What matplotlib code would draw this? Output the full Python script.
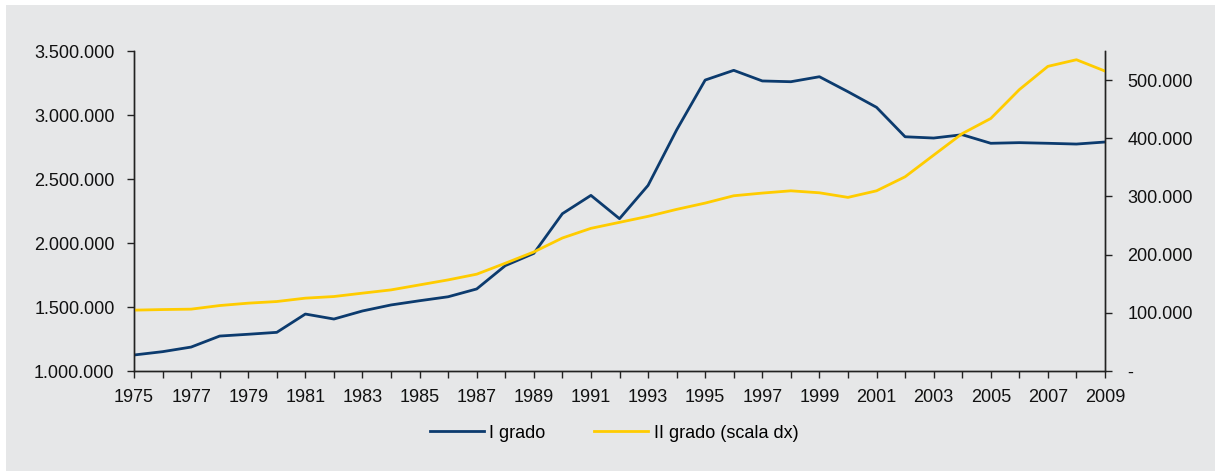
import matplotlib
matplotlib.use("Agg")
import matplotlib.pyplot as plt
from matplotlib.patches import Rectangle
from matplotlib.ticker import FuncFormatter, MultipleLocator

plt.rcParams['font.family'] = ['Liberation Sans', 'DejaVu Sans']

years = list(range(1975, 2010))

# I grado (scala sx)
primo_grado = [1125000, 1151000, 1187000, 1273000, 1287000, 1302000, 1445000, 1406000,
               1469000, 1516000, 1549000, 1580000, 1641000, 1823000, 1919000, 2229000,
               2372000, 2190000, 2450000, 2883000, 3273000, 3349000, 3266000, 3260000,
               3299000, 3182000, 3060000, 2830000, 2820000, 2846000, 2779000, 2784000,
               2779000, 2773000, 2789000]

# II grado (scala dx)
secondo_grado = [104600, 105600, 106300, 112500, 116600, 119400, 125200, 128000,
                 133800, 139400, 148000, 156600, 166400, 185200, 204600, 228600,
                 245200, 255500, 265800, 277800, 288600, 301200, 305800, 309700,
                 306300, 298400, 309700, 333800, 371000, 408000, 434000, 483600,
                 523600, 535000, 515500]

blu = '#0c3b6e'
giallo = '#ffcc00'
sfondo = '#e6e7e8'


def migliaia(v, pos):
    if v == 0:
        return '-'
    return f'{int(round(v)):,}'.replace(',', '.')


fig = plt.figure(figsize=(12.17, 4.73), dpi=100)
fig.patch.set_facecolor('white')
fig.patches.append(Rectangle((6 / 1217, 2 / 473), 1209 / 1217, 466 / 473,
                             transform=fig.transFigure, facecolor=sfondo,
                             edgecolor='none', zorder=-10))

ax = fig.add_axes([134 / 1217, 1 - 371 / 473, (1105 - 134) / 1217, 320 / 473])
ax.set_facecolor('none')
ax2 = ax.twinx()

l1, = ax.plot(years, primo_grado, color=blu, lw=2.0, label='I grado')
l2, = ax2.plot(years, secondo_grado, color=giallo, lw=2.0, label='II grado (scala dx)')

ax.set_xlim(1975, 2009)
ax.set_ylim(1000000, 3500000)
ax2.set_ylim(0, 550000)
ax.yaxis.set_major_locator(MultipleLocator(500000))
ax2.yaxis.set_major_locator(MultipleLocator(100000))
ax.yaxis.set_major_formatter(FuncFormatter(migliaia))
ax2.yaxis.set_major_formatter(FuncFormatter(migliaia))

ax.set_xticks(years)
ax.set_xticklabels([str(y) if y % 2 == 1 else '' for y in years])

for a in (ax, ax2):
    a.spines['top'].set_visible(False)
    for s in a.spines.values():
        s.set_color('#222222')
        s.set_linewidth(1.0)
    a.tick_params(direction='out', length=5, width=1, color='#222222',
                  labelsize=13, labelcolor='#111111')
ax.tick_params(axis='x', pad=8)
ax.tick_params(axis='y', pad=9)
ax2.tick_params(axis='y', pad=11)

fig.legend(handles=[l1, l2], loc='center', bbox_to_anchor=(614 / 1217, 1 - 433 / 473),
           ncol=2, frameon=False, fontsize=13, handlelength=3.0,
           handletextpad=0.3, columnspacing=2.7)

fig.savefig('out.png', dpi=100)
